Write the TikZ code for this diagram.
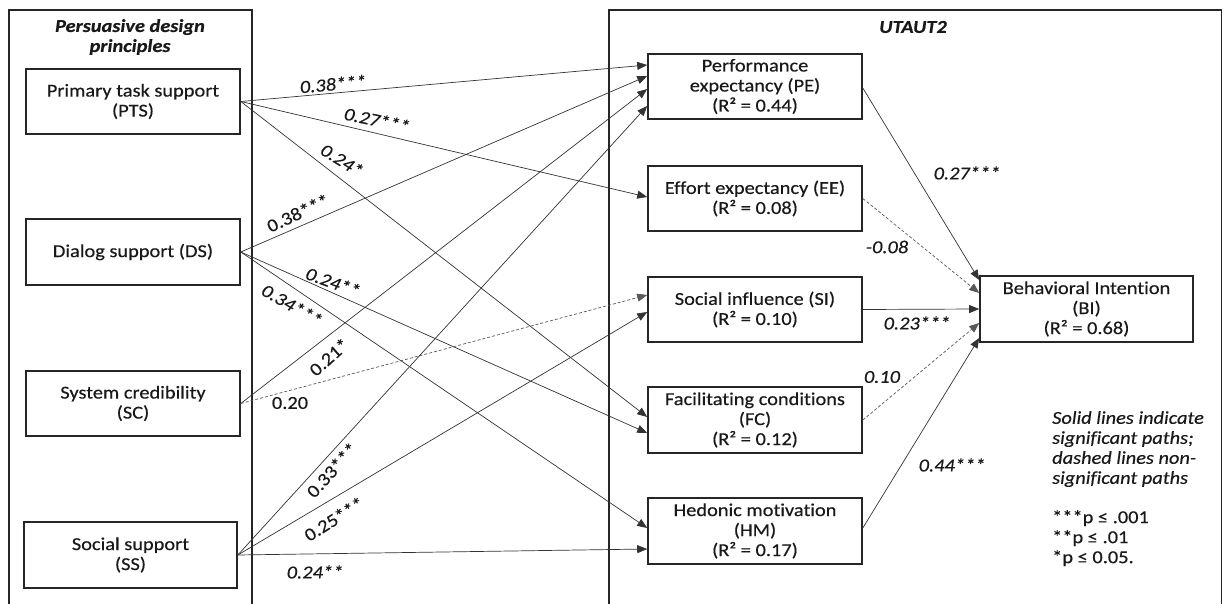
\documentclass[tikz,border=0pt]{standalone}
\usepackage{fontspec}
\setmainfont{Carlito}[FakeStretch=1.12, FakeBold=0.4, Ligatures=NoCommon]
\usetikzlibrary{arrows.meta,calc}
\begin{document}
\begin{tikzpicture}[x=1pt,y=-1pt,
  every node/.style={font=\fontsize{18.2}{20}\selectfont, text=black!90},
  box/.style={draw=black!85, line width=1.6pt, minimum width=214pt,
    minimum height=65pt, align=center, inner sep=0pt},
  panel/.style={draw=black!85, line width=1.6pt},
  sig/.style={draw=black!80, line width=0.7pt, -{Triangle[length=10pt,width=8pt]}},
  nsig/.style={sig, draw=black!65, dash pattern=on 3pt off 2pt},
  lab/.style={font=\fontsize{18.2}{20}\selectfont\itshape, inner sep=1pt},
  labu/.style={font=\fontsize{18.2}{20}\selectfont, inner sep=1pt},
  ttl/.style={font=\fontsize{18.2}{20}\selectfont\bfseries\itshape, align=center}]
\useasboundingbox (0,0) rectangle (1223,604);

% the two open-bottomed panels
\begin{scope}
  \clip (0,0) rectangle (1223,604);
  \draw[panel] (9,10) rectangle (252,640);
  \draw[panel] (609,10) rectangle (1221.5,640);
\end{scope}
\node[ttl] (ttlL) at (130,37) {Persuasive design\\principles};
\node[ttl] (ttlR) at (913,27) {UTAUT2};

% persuasive design principles
\node[box] (PTS) at (133,101.5) {Primary task support\\(PTS)};
\node[box, minimum height=66pt] (DS) at (133,252) {Dialog support (DS)};
\node[box] (SC) at (133,403.5) {System credibility\\(SC)};
\node[box, minimum width=213pt, minimum height=66pt] (SS) at (130.5,555) {Social support\\(SS)};

% UTAUT2 constructs
\node[box] (PE) at (755,86.5) {Performance\\expectancy (PE)\\(R² = 0.44)};
\node[box] (EE) at (755,198.5) {Effort expectancy (EE)\\(R² = 0.08)};
\node[box] (SI) at (755,309.5) {Social influence (SI)\\(R² = 0.10)};
\node[box, minimum height=66pt] (FC) at (755,420) {Facilitating conditions\\(FC)\\(R² = 0.12)};
\node[box, minimum height=66pt] (HM) at (755,531) {Hedonic motivation\\(HM)\\(R² = 0.17)};
\node[box, minimum width=213pt, minimum height=66pt] (BI) at (1086.5,309) {Behavioral Intention\\(BI)\\(R² = 0.68)};

% paths from the design principles
\draw[sig] (PTS.east) -- ($(PE.west)+(0,-21.5)$);
\draw[sig] (PTS.east) -- ($(EE.west)+(0,-1.5)$);
\draw[sig] (PTS.east) -- ($(FC.west)+(0,-3)$);
\draw[sig] (DS.east) -- ($(PE.west)+(0,-10.5)$);
\draw[sig] (DS.east) -- ($(FC.west)+(0,13)$);
\draw[sig] (DS.east) -- ($(HM.west)+(0,-3)$);
\draw[sig] (SC.east) -- ($(PE.west)+(0,2.5)$);
\draw[nsig] (SC.east) -- ($(SI.west)+(0,-14.5)$);
\draw[sig] (SS.east) -- ($(PE.west)+(0,19.5)$);
\draw[sig] (SS.east) -- ($(SI.west)+(0,2.5)$);
\draw[sig] (SS.east) -- ($(HM.west)+(0,18)$);

% paths into behavioral intention
\draw[sig] ($(PE.east)+(0,1.5)$) -- ($(BI.west)+(0,-29)$);
\draw[nsig] (EE.east) -- ($(BI.west)+(0,-16)$);
\draw[sig] (SI.east) -- (BI.west);
\draw[nsig] (FC.east) -- ($(BI.west)+(0,14)$);
\draw[sig] ($(HM.east)+(0,-3)$) -- ($(BI.west)+(0,29)$);

% path coefficients
\node[lab, rotate=5] (c1) at (333,84) {0.38***};
\node[lab, rotate=-12] (c2) at (377,120) {0.27***};
\node[lab, rotate=-32] (c3) at (342,160) {0.24*};
\node[labu, rotate=25] (c4) at (298,213) {0.38***};
\node[lab, rotate=-20] (c5) at (333,282) {0.24**};
\node[lab, rotate=-30] (c6) at (292,305) {0.34***};
\node[labu, rotate=42] (c7) at (329,357) {0.21*};
\node[labu] (c8) at (290,403) {0.20};
\node[labu, rotate=48] (c9) at (332,470) {0.33***};
\node[labu, rotate=32] (c10) at (334,519) {0.25***};
\node[lab] (c11) at (315,572) {0.24**};
\node[lab] (c12) at (967,173) {0.27***};
\node[lab] (c13) at (887,247) {-0.08};
\node[lab] (c14) at (917,323) {0.23***};
\node[lab] (c15) at (882,377) {0.10};
\node[lab] (c16) at (952,465) {0.44***};

% legend
\node[lab, anchor=north west, align=left, inner sep=0pt] (leg1) at (1052,411)
  {Solid lines indicate\\significant paths;\\dashed lines non-\\significant paths};
\node[labu, anchor=north west, align=left, inner sep=0pt] (leg2) at (1052,510)
  {***p ≤ .001\\**p ≤ .01\\*p ≤ 0.05.};
\end{tikzpicture}
\end{document}
